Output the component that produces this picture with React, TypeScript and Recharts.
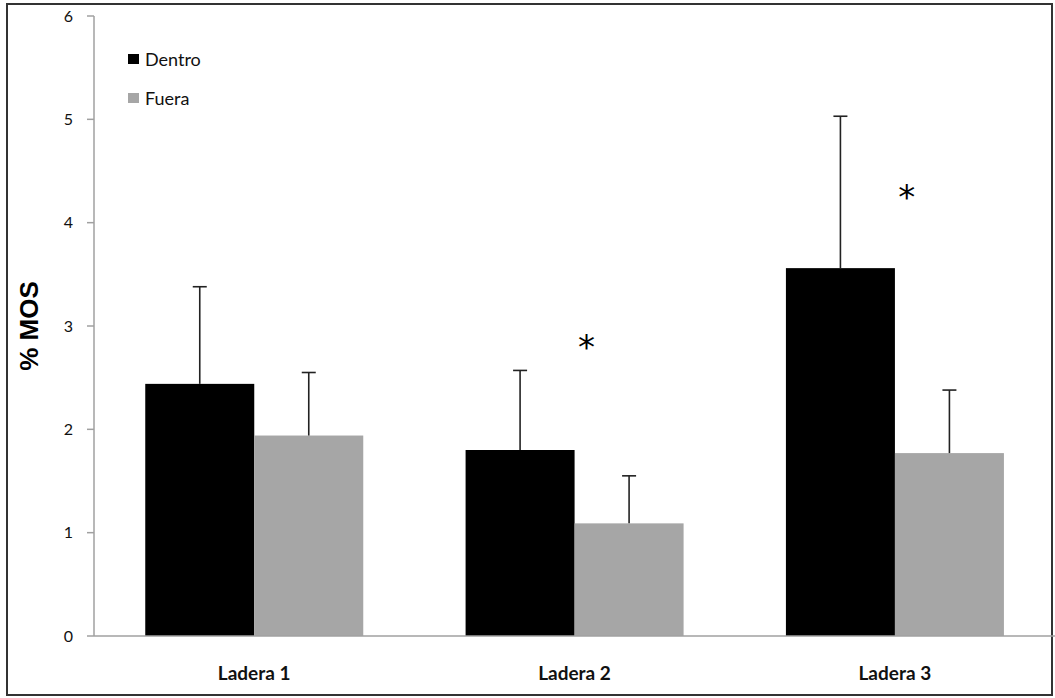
import React from "react";
import { ComposedChart, Bar, XAxis, YAxis, Scatter, Label } from "recharts";

const categories = ["Ladera 1", "Ladera 2", "Ladera 3"];
const dentro = [2.44, 1.8, 3.56];
const dentroErr = [0.94, 0.77, 1.47];
const fuera = [1.94, 1.09, 1.77];
const fueraErr = [0.61, 0.46, 0.61];
const significance = [null, 2.8, 4.25];
const yTicks = [0, 1, 2, 3, 4, 5, 6];

const data = categories.map((c, i) => ({
  name: c,
  dentro: dentro[i],
  dentroErr: dentroErr[i],
  fuera: fuera[i],
  fueraErr: fueraErr[i],
  sig: significance[i],
}));

const AXIS = "#a0a0a0";
const FONT = "Lato, 'Open Sans', sans-serif";

const makeBarWithError = (errKey: string) => (props: any) => {
  const { x, y, width, height, fill, payload, value } = props;
  const v = Array.isArray(value) ? value[1] - value[0] : value;
  const pxPerUnit = v ? height / v : 0;
  const errPx = (payload?.[errKey] ?? 0) * pxPerUnit;
  const cx = x + width / 2;
  const top = y - errPx;
  return (
    <g>
      <rect x={x} y={y} width={width} height={height} fill={fill} />
      <line x1={cx} y1={y} x2={cx} y2={top} stroke="#222" strokeWidth={1.6} />
      <line x1={cx - 7} y1={top} x2={cx + 7} y2={top} stroke="#222" strokeWidth={1.6} />
    </g>
  );
};

const Star = (props: any) => {
  const { cx, cy } = props;
  if (cx == null || cy == null || props.payload?.sig == null) return null;
  return (
    <text x={cx + 12} y={cy + 12} textAnchor="middle" fontSize={34} fontFamily="'DejaVu Sans', sans-serif" fill="#000">
      *
    </text>
  );
};

export default function App() {
  return (
    <div style={{ position: "absolute", left: 0, top: 0, width: 1055, height: 698, background: "#fff" }}>
      <div
        style={{
          position: "absolute",
          left: 6,
          top: 3,
          width: 1043,
          height: 689,
          border: "2px solid #333",
        }}
      />
      <div style={{ position: "absolute", left: 0, top: 0 }}>
        <ComposedChart
          width={1055}
          height={698}
          data={data}
          margin={{ top: 16, right: 0, bottom: 0, left: 0 }}
          barCategoryGap="16%"
          barGap={0}
        >
          <XAxis
            dataKey="name"
            height={62}
            tickLine={false}
            axisLine={{ stroke: AXIS, strokeWidth: 1.5 }}
            tick={{ fill: "#111", fontSize: 19, fontWeight: 700, fontFamily: FONT, dy: 23 }}
          />
          <YAxis
            width={94}
            domain={[0, 6]}
            ticks={yTicks}
            tickSize={7}
            tickMargin={14}
            axisLine={{ stroke: AXIS, strokeWidth: 1.5 }}
            tickLine={{ stroke: AXIS, strokeWidth: 1.5 }}
            tick={{ fill: "#111", fontSize: 16, fontFamily: FONT }}
          >
            <Label
              value="% MOS"
              angle={-90}
              position="insideLeft"
              dx={24}
              style={{ fontSize: 26, fontWeight: 700, fill: "#000", fontFamily: "'Liberation Sans', Arial, sans-serif", textAnchor: "middle" }}
            />
          </YAxis>
          <Bar dataKey="dentro" fill="#000" isAnimationActive={false} shape={makeBarWithError("dentroErr")} />
          <Bar dataKey="fuera" fill="#a6a6a6" isAnimationActive={false} shape={makeBarWithError("fueraErr")} />
          <Scatter dataKey="sig" shape={<Star />} isAnimationActive={false} legendType="none" />
        </ComposedChart>
      </div>
      <div style={{ position: "absolute", left: 128, top: 48, fontFamily: FONT, fontSize: 18, color: "#111" }}>
        <div style={{ display: "flex", alignItems: "center", height: 22 }}>
          <span style={{ display: "inline-block", width: 11, height: 10, background: "#000", marginRight: 6 }} />
          Dentro
        </div>
        <div style={{ display: "flex", alignItems: "center", height: 22, marginTop: 17 }}>
          <span style={{ display: "inline-block", width: 11, height: 10, background: "#a6a6a6", marginRight: 6 }} />
          Fuera
        </div>
      </div>
    </div>
  );
}
